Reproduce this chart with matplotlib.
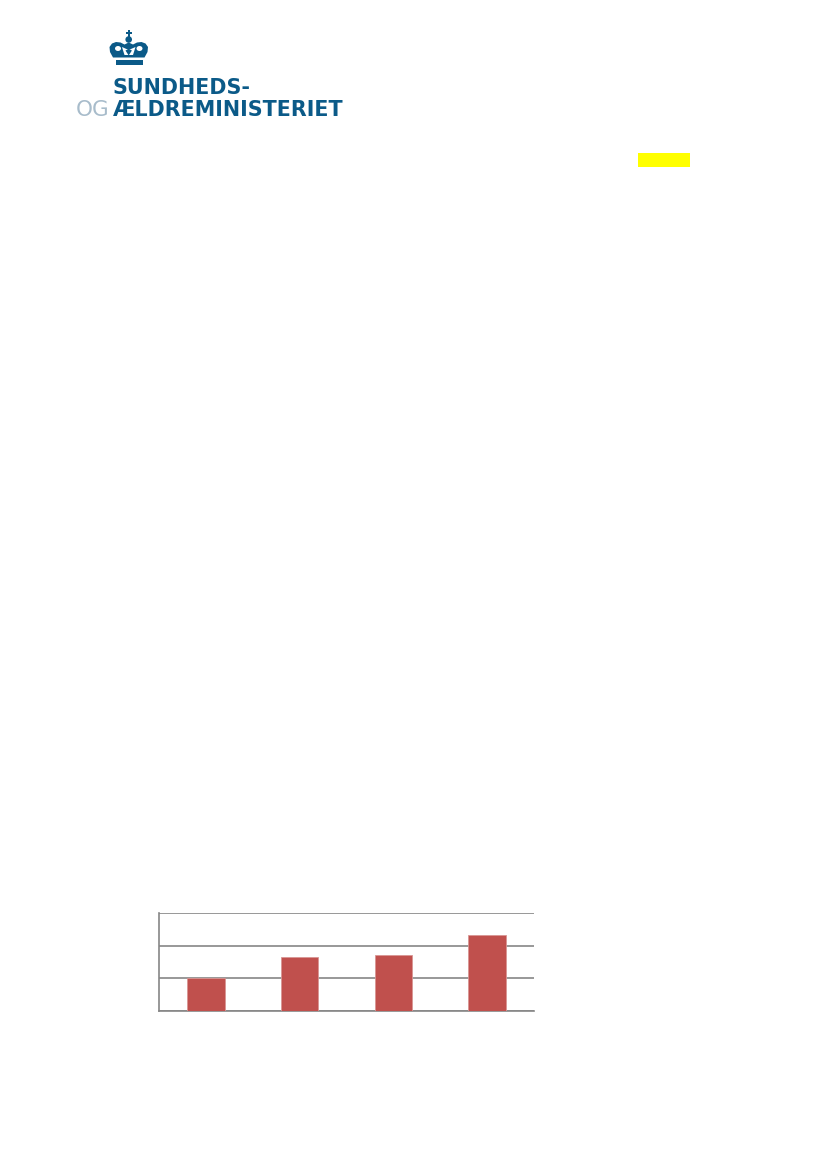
import numpy as np
import matplotlib
matplotlib.use('Agg')
import matplotlib.pyplot as plt
from matplotlib.patches import Rectangle, Polygon, Ellipse, Circle

# chart data (no labels are printed in the reference)
categories = ['1', '2', '3', '4']
values = [1.0, 1.64, 1.71, 2.33]
yticks = [0, 1, 2, 3]

W, H = 827, 1169
fig = plt.figure(figsize=(W / 100, H / 100), dpi=100)

# page overlay for logo and marker, in pixel coords
page = fig.add_axes([0, 0, 1, 1])
page.set_xlim(0, W)
page.set_ylim(H, 0)
page.axis('off')

blue = '#0b5a88'
# crown
page.add_patch(Rectangle((116, 59.5), 27, 5.8, color=blue, lw=0))
crown = [(113, 57.5), (110, 52), (109.5, 47), (112, 43.5), (116, 42),
         (120.5, 42.5), (124.5, 44.5), (128.7, 42.5), (133, 44.5),
         (137, 42.5), (141.5, 42), (145.5, 43.5), (148, 47), (147.5, 52),
         (144.5, 57.5)]
page.add_patch(Polygon(crown, closed=True, color=blue, lw=0))
page.add_patch(Ellipse((118, 48.5), 6, 5, color='white', lw=0))
page.add_patch(Ellipse((139.5, 48.5), 6, 5, color='white', lw=0))
page.add_patch(Polygon([(122, 47), (128.7, 50), (135.5, 47), (133, 55), (124.5, 55)],
                       closed=True, color='white', lw=0))
page.add_patch(Polygon([(125.5, 50.5), (128.7, 49), (131.9, 50.5), (128.7, 55.5)],
                       closed=True, color=blue, lw=0))
page.add_patch(Circle((128.7, 39.5), 3.3, color=blue, lw=0))
page.add_patch(Rectangle((127.8, 30), 1.8, 7, color=blue, lw=0))
page.add_patch(Rectangle((125.7, 32.3), 6, 1.8, color=blue, lw=0))

page.text(113, 93.5, 'SUNDHEDS-', fontsize=14.9, fontweight='bold',
          family='DejaVu Sans', color=blue, va='baseline', ha='left')
page.text(113, 115.5, 'ÆLDREMINISTERIET', fontsize=14.9, fontweight='bold',
          family='DejaVu Sans', color=blue, va='baseline', ha='left')
page.text(76, 115.5, 'OG', fontsize=15.5, family='DejaVu Sans',
          color='#a8bccb', va='baseline', ha='left')

# yellow highlight marker
page.add_patch(Rectangle((638, 153), 52, 13.5, color='#ffff00', lw=0))

# bar chart
ax = fig.add_axes([159 / W, 1 - 1011 / H, 375 / W, 98 / H])
x = np.arange(len(categories))
ax.bar(x, values, width=0.4, color='#c0504d', edgecolor='#d99694',
       linewidth=0.6, zorder=3)
ax.set_xlim(-0.5, len(categories) - 0.5)
ax.set_ylim(yticks[0], yticks[-1])
ax.set_yticks(yticks)
ax.yaxis.grid(True, color='#868686', linewidth=1.2)
ax.set_axisbelow(True)
ax.tick_params(left=False, bottom=False, labelleft=False, labelbottom=False)
for s in ['top', 'right']:
    ax.spines[s].set_visible(False)
for s in ['left', 'bottom']:
    ax.spines[s].set_color('#868686')
    ax.spines[s].set_linewidth(1.2)

fig.savefig('out.png', dpi=100)
